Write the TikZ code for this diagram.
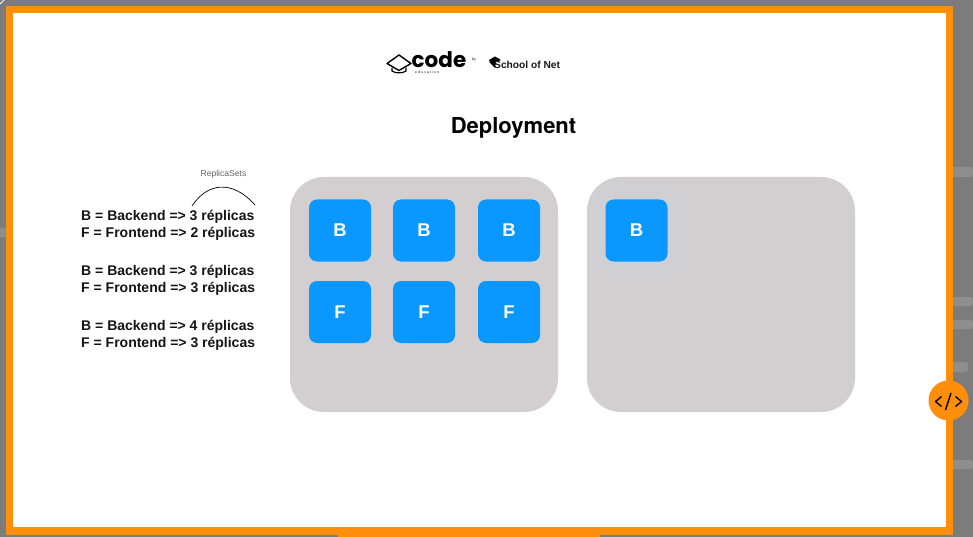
\documentclass[tikz,border=0pt]{standalone}
\usepackage{fontspec}
\setmainfont{Liberation Sans}
\newfontfamily\headfont{TeX Gyre Heros}
\newfontfamily\logofont{Poppins}
\definecolor{frameorange}{HTML}{FF8F0A}
\definecolor{outergray}{HTML}{7C7C7C}
\definecolor{stripgray}{HTML}{8E8E8E}
\definecolor{panelgray}{HTML}{D3CFD1}
\definecolor{tileblue}{HTML}{0A98FF}
\definecolor{haloblue}{HTML}{C8D4E0}
\tikzset{
  x=1pt,y=-1pt,
  panel/.style={fill=panelgray,draw=none,rounded corners=34pt},
  halo/.style={fill=haloblue,draw=none,opacity=0.11},
  tile/.style={fill=tileblue,draw=none,rounded corners=8pt,minimum width=62pt,minimum height=62pt,inner sep=0pt,text=white,font=\fontsize{18.5}{18.5}\selectfont\bfseries},
  infotext/.style={anchor=base west,inner sep=0pt,font=\fontsize{14}{14}\selectfont\bfseries,text=black!92},
  strip/.style={fill=stripgray,draw=none,rounded corners=3pt},
}
\begin{document}
\begin{tikzpicture}
\useasboundingbox (0,0) rectangle (973,537);
\fill[outergray] (0,0) rectangle (973,537);
\draw[white,line width=0.8pt] (0,4) -- (4,0);
\fill[strip] (950,167) rectangle (973,177);
\fill[strip] (950,297) rectangle (973,306);
\fill[strip] (950,320) rectangle (973,329);
\fill[strip] (950,362) rectangle (968,372);
\fill[strip] (950,460) rectangle (973,469);
\fill[strip] (-3,228) rectangle (8,237);
\fill[frameorange] (6,6) rectangle (953,535);
\fill[frameorange] (338,535) rectangle (600,537);
\fill[white] (13,13) rectangle (946,527);
% logo
\draw[black,line width=1.4pt,line join=round] (387,63.5) -- (399,55) -- (411,63.5) -- (399,70.5) -- cycle;
\draw[black,line width=1.2pt] (392,68) -- (392,71) .. controls (395,73.5) and (403,73.5) .. (406,71) -- (406,68);
\node[name=codeword,anchor=base west,inner sep=0pt,font=\logofont\fontsize{21.5}{22}\selectfont\bfseries] at (411.5,68) {code};
\node[name=eduword,anchor=base west,inner sep=0pt,font=\fontsize{3.4}{4}\selectfont] at (415,74) {e\,\,d\,\,u\,\,c\,\,a\,\,t\,\,i\,\,o\,\,n};
\node[name=byword,anchor=base west,inner sep=0pt,font=\fontsize{3.5}{4}\selectfont] at (472,61) {by};
\fill[black] (489,60) -- (495,56.5) -- (501,60) -- (496,62) -- (495,68) -- (490,63) -- cycle;
\node[name=sonword,anchor=base west,inner sep=0pt,font=\fontsize{10.2}{10}\selectfont\bfseries,text=black!90] at (494,69) {School of Net};
% title
\node[name=title,anchor=base,inner sep=0pt,font=\fontsize{22}{22}\headfont\bfseries] at (513.5,133.5) {Deployment};
% text list
\node[name=rsl,anchor=base,inner sep=0pt,font=\fontsize{8.6}{9}\selectfont,text=black!60] at (223.5,177) {ReplicaSets};
\node[infotext,name=l1] at (81,220) {B = Backend => 3 réplicas};
\node[infotext,name=l2] at (81,237) {F = Frontend => 2 réplicas};
\node[infotext,name=l3] at (81,275) {B = Backend => 3 réplicas};
\node[infotext,name=l4] at (81,292) {F = Frontend => 3 réplicas};
\node[infotext,name=l5] at (81,330) {B = Backend => 4 réplicas};
\node[infotext,name=l6] at (81,347) {F = Frontend => 3 réplicas};
\coordinate (arcL) at (192,206);
\coordinate (arcR) at (255,205);
\draw[black,line width=0.7pt] (arcL) .. controls (207,183) and (232,179) .. (arcR);
% panels
\fill[panel] (290,177) rectangle (558,412);
\fill[panel] (587,177) rectangle (855,412);
% soft halo behind the lone tile
\fill[halo,rounded corners=30pt] (590,180) rectangle (690,285);
\fill[halo,rounded corners=26pt] (594,184) rectangle (684,278);
\fill[halo,rounded corners=22pt] (598,188) rectangle (678,272);
% tiles
\node[tile] (b1) at (340,230.5) {B};
\node[tile] (b2) at (424,230.5) {B};
\node[tile] (b3) at (509,230.5) {B};
\node[tile] (f1) at (340,312) {F};
\node[tile] (f2) at (424,312) {F};
\node[tile] (f3) at (509,312) {F};
\node[tile] (b4) at (636.5,230.5) {B};
% badge
\node[name=badge,circle,fill=frameorange,minimum size=40pt,inner sep=0pt] at (948.5,400.5) {};
\draw[black,line width=1.4pt,line join=round] (941.5,396.5) -- (935.5,401.5) -- (941.5,406.5);
\draw[black,line width=1.4pt,line join=round] (955.5,396.5) -- (961.5,401.5) -- (955.5,406.5);
\draw[black,line width=1.4pt] (951,393) -- (945.5,410);
\end{tikzpicture}
\end{document}
